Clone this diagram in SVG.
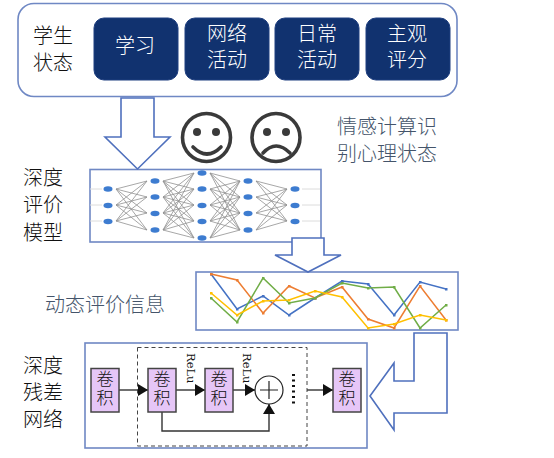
<svg xmlns="http://www.w3.org/2000/svg" width="554" height="458" viewBox="0 0 554 458">
<defs>
<style>
text{font-family:"Noto Sans CJK SC","Liberation Sans",sans-serif;font-weight:300}
.t{font-size:20px;fill:#111;text-anchor:middle}
.w{font-size:20px;fill:#fff;text-anchor:middle}
.g{font-size:20px;fill:#44546a;text-anchor:middle}
.btn{fill:#11326f;stroke:#1f3f80;stroke-width:1}
.arrow{fill:#fff;stroke:#4f70bd;stroke-width:1.6}
.frame{fill:#fff;stroke:#6f88c4;stroke-width:1.6}
.face{fill:none;stroke:#3a3a3a;stroke-width:3.6;stroke-linecap:round}
.eye{fill:#3a3a3a}
.node{fill:#3d7bd0}
.edge{fill:none;stroke:#909090;stroke-width:.8}
.stub{fill:none;stroke:#dcdcdc;stroke-width:1}
.s{fill:none;stroke-width:1.5}
.conv{fill:#e6c6f7;stroke:#444;stroke-width:1.5}
.ct{font-size:17px;fill:#111;text-anchor:middle}
.rl{font-family:"DejaVu Serif",serif;font-size:11.500px;fill:#111;font-weight:400}
.c{fill:none;stroke:#333;stroke-width:1.4}
</style>
<marker id="ah" markerUnits="userSpaceOnUse" markerWidth="10" markerHeight="12" refX="10" refY="6" orient="auto"><path d="M0 0L10 6L0 12Z" fill="#111"/></marker>
<marker id="mb" markerUnits="userSpaceOnUse" markerWidth="3" markerHeight="3" refX="1.500" refY="1.500"><rect width="3" height="3" fill="#4472c4"/></marker>
<marker id="mo" markerUnits="userSpaceOnUse" markerWidth="3" markerHeight="3" refX="1.500" refY="1.500"><rect width="3" height="3" fill="#ed7d31"/></marker>
<marker id="mg" markerUnits="userSpaceOnUse" markerWidth="3" markerHeight="3" refX="1.500" refY="1.500"><rect width="3" height="3" fill="#70ad47"/></marker>
<marker id="my" markerUnits="userSpaceOnUse" markerWidth="3" markerHeight="3" refX="1.500" refY="1.500"><rect width="3" height="3" fill="#ffc000"/></marker>
<filter id="soft" x="-5%" y="-5%" width="110%" height="110%"><feGaussianBlur stdDeviation="0.4"/></filter>
</defs>
<rect width="554" height="458" fill="#fff"/>

<g id="student-state">
<rect class="frame" x="18" y="3.500" width="439" height="93" rx="16"/>
<text class="t" x="53" y="43">学生</text>
<text class="t" x="53" y="70">状态</text>
</g>
<g id="node-study"><rect class="btn" x="94" y="18" width="84" height="62" rx="10"/><text class="w" x="135" y="53">学习</text></g>
<g id="node-network"><rect class="btn" x="185" y="18" width="84" height="62" rx="10"/><text class="w" x="227" y="41">网络</text><text class="w" x="227" y="67">活动</text></g>
<g id="node-daily"><rect class="btn" x="275" y="18" width="84" height="62" rx="10"/><text class="w" x="317" y="41">日常</text><text class="w" x="317" y="67">活动</text></g>
<g id="node-subjective"><rect class="btn" x="366" y="18" width="84" height="62" rx="10"/><text class="w" x="407" y="41">主观</text><text class="w" x="407" y="67">评分</text></g>

<g id="smile"><circle class="face" cx="206.500" cy="137.500" r="24"/><circle class="eye" cx="197" cy="132" r="4"/><circle class="eye" cx="216" cy="132" r="4"/><path class="face" d="M193 147Q207 161 221 147"/></g>
<g id="frown"><circle class="face" cx="276" cy="137.500" r="24"/><circle class="eye" cx="267" cy="132" r="4"/><circle class="eye" cx="286" cy="132" r="4"/><path class="face" d="M263 153Q276 139 290 153"/></g>
<g id="emotion-label"><text class="g" x="387" y="134">情感计算识</text><text class="g" x="387" y="161">别心理状态</text></g>

<g id="model-label"><text class="t" x="43" y="185">深度</text><text class="t" x="43" y="212">评价</text><text class="t" x="43" y="240">模型</text></g>

<g id="deep-model">
<rect class="frame" x="90" y="169.500" width="231" height="72.500"/>
<g filter="url(#soft)">
<path class="stub" d="M90 189H102M90 205H102M90 221H102M302 189H320M302 205H320M302 221H320"/>
<path class="edge" d="M116 189L147 181M116 189L147 197M116 189L147 213M116 189L147 230M116 205L147 181M116 205L147 197M116 205L147 213M116 205L147 230M116 221L147 181M116 221L147 197M116 221L147 213M116 221L147 230"/>
<path class="edge" d="M163 181L194 173M163 181L194 189M163 181L194 205M163 181L194 221M163 181L194 238M163 197L194 173M163 197L194 189M163 197L194 205M163 197L194 221M163 197L194 238M163 213L194 173M163 213L194 189M163 213L194 205M163 213L194 221M163 213L194 238M163 230L194 173M163 230L194 189M163 230L194 205M163 230L194 221M163 230L194 238"/>
<path class="edge" d="M210 173L240 181M210 173L240 197M210 173L240 213M210 173L240 230M210 189L240 181M210 189L240 197M210 189L240 213M210 189L240 230M210 205L240 181M210 205L240 197M210 205L240 213M210 205L240 230M210 221L240 181M210 221L240 197M210 221L240 213M210 221L240 230M210 238L240 181M210 238L240 197M210 238L240 213M210 238L240 230"/>
<path class="edge" d="M256 181L287 189M256 181L287 205M256 181L287 221M256 197L287 189M256 197L287 205M256 197L287 221M256 213L287 189M256 213L287 205M256 213L287 221M256 230L287 189M256 230L287 205M256 230L287 221"/>
<g class="node">
<ellipse cx="108" cy="189" rx="4.500" ry="2.800"/><ellipse cx="108" cy="205.500" rx="4.500" ry="2.800"/><ellipse cx="108" cy="221.500" rx="4.500" ry="2.800"/>
<ellipse cx="155" cy="181" rx="4.500" ry="2.800"/><ellipse cx="155" cy="197" rx="4.500" ry="2.800"/><ellipse cx="155" cy="213.500" rx="4.500" ry="2.800"/><ellipse cx="155" cy="230" rx="4.500" ry="2.800"/>
<ellipse cx="202" cy="173" rx="4.500" ry="2.800"/><ellipse cx="202" cy="189" rx="4.500" ry="2.800"/><ellipse cx="202" cy="205.500" rx="4.500" ry="2.800"/><ellipse cx="202" cy="221.500" rx="4.500" ry="2.800"/><ellipse cx="202" cy="238" rx="4.500" ry="2.800"/>
<ellipse cx="248" cy="181" rx="4.500" ry="2.800"/><ellipse cx="248" cy="197" rx="4.500" ry="2.800"/><ellipse cx="248" cy="213.500" rx="4.500" ry="2.800"/><ellipse cx="248" cy="230" rx="4.500" ry="2.800"/>
<ellipse cx="295" cy="189" rx="4.500" ry="2.800"/><ellipse cx="295" cy="205.500" rx="4.500" ry="2.800"/><ellipse cx="295" cy="221.500" rx="4.500" ry="2.800"/>
</g>
</g>
</g>

<g id="dynamic-label"><text x="105" y="312" font-size="20" fill="#44546a" text-anchor="middle">动态评价信息</text></g>

<g id="dynamic-chart">
<rect class="frame" x="196" y="272" width="262" height="58"/>
<g filter="url(#soft)">
<polyline class="s" stroke="#4472c4" marker-start="url(#mb)" marker-mid="url(#mb)" marker-end="url(#mb)" points="211,274 237,309 263,296 289,315 315,298 342,281 368,284 394,315 420,282 446,289"/>
<polyline class="s" stroke="#ed7d31" marker-start="url(#mo)" marker-mid="url(#mo)" marker-end="url(#mo)" points="211,274 237,280 263,313 289,286 315,298 342,287 368,319 394,328 420,286 446,320"/>
<polyline class="s" stroke="#70ad47" marker-start="url(#mg)" marker-mid="url(#mg)" marker-end="url(#mg)" points="211,298 237,322 263,278 289,303 315,298 342,283 368,288 394,287 420,328 446,305"/>
<polyline class="s" stroke="#ffc000" marker-start="url(#my)" marker-mid="url(#my)" marker-end="url(#my)" points="211,293 237,315 263,301 289,300 315,291 342,297 368,328 394,324 420,315 446,320"/>
</g>
</g>

<g id="res-label"><text class="t" x="43" y="373">深度</text><text class="t" x="43" y="400">残差</text><text class="t" x="43" y="427">网络</text></g>

<g id="residual-net">
<rect class="frame" x="85" y="343" width="282" height="105"/>
<rect x="137.500" y="347.500" width="169.500" height="98.500" fill="none" stroke="#444" stroke-width="1" stroke-dasharray="4 3"/>
<g id="residual-links">
<path class="c" marker-end="url(#ah)" d="M119 390H148"/>
<path class="c" marker-end="url(#ah)" d="M176 390H205"/>
<path class="c" marker-end="url(#ah)" d="M233 390H255"/>
<path class="c" marker-end="url(#ah)" d="M162 412V431H269V404"/>
<path class="c" marker-end="url(#ah)" d="M307 390H333"/>
</g>
<g id="conv-1"><rect class="conv" x="91" y="368.500" width="28" height="43.500"/><text class="ct"><tspan x="105" y="385">卷</tspan><tspan x="105" y="404">积</tspan></text></g>
<g id="conv-2"><rect class="conv" x="148" y="368.500" width="28" height="43.500"/><text class="ct"><tspan x="162" y="385">卷</tspan><tspan x="162" y="404">积</tspan></text></g>
<g id="conv-3"><rect class="conv" x="205" y="368.500" width="28" height="43.500"/><text class="ct"><tspan x="219" y="385">卷</tspan><tspan x="219" y="404">积</tspan></text></g>
<g id="conv-4"><rect class="conv" x="333" y="368.500" width="28" height="43.500"/><text class="ct"><tspan x="347" y="385">卷</tspan><tspan x="347" y="404">积</tspan></text></g>
<g id="sum"><circle cx="269" cy="390" r="14" fill="#fff" stroke="#222" stroke-width="1.2"/><path d="M260 390H278M269 381V399" stroke="#222" stroke-width="1.2" fill="none"/></g>
<path id="dots" d="M293.500 374V406" stroke="#111" stroke-width="3" stroke-dasharray="2 3.500" fill="none"/>
<text class="rl" transform="translate(187,353) rotate(90)">ReLu</text>
<text class="rl" transform="translate(243,353) rotate(90)">ReLu</text>
</g>

<g id="connectors">
<path id="arrow-down-1" class="arrow" d="M121 98H154V137H170L137.500 169L105 137H121Z"/>
<path id="arrow-down-2" class="arrow" d="M292 238H324V255H341L308 272L275 255H292Z"/>
<path id="arrow-left" class="arrow" d="M414 333H447V413H394V430L370 396L394 363V381H414Z"/>
</g>
</svg>
